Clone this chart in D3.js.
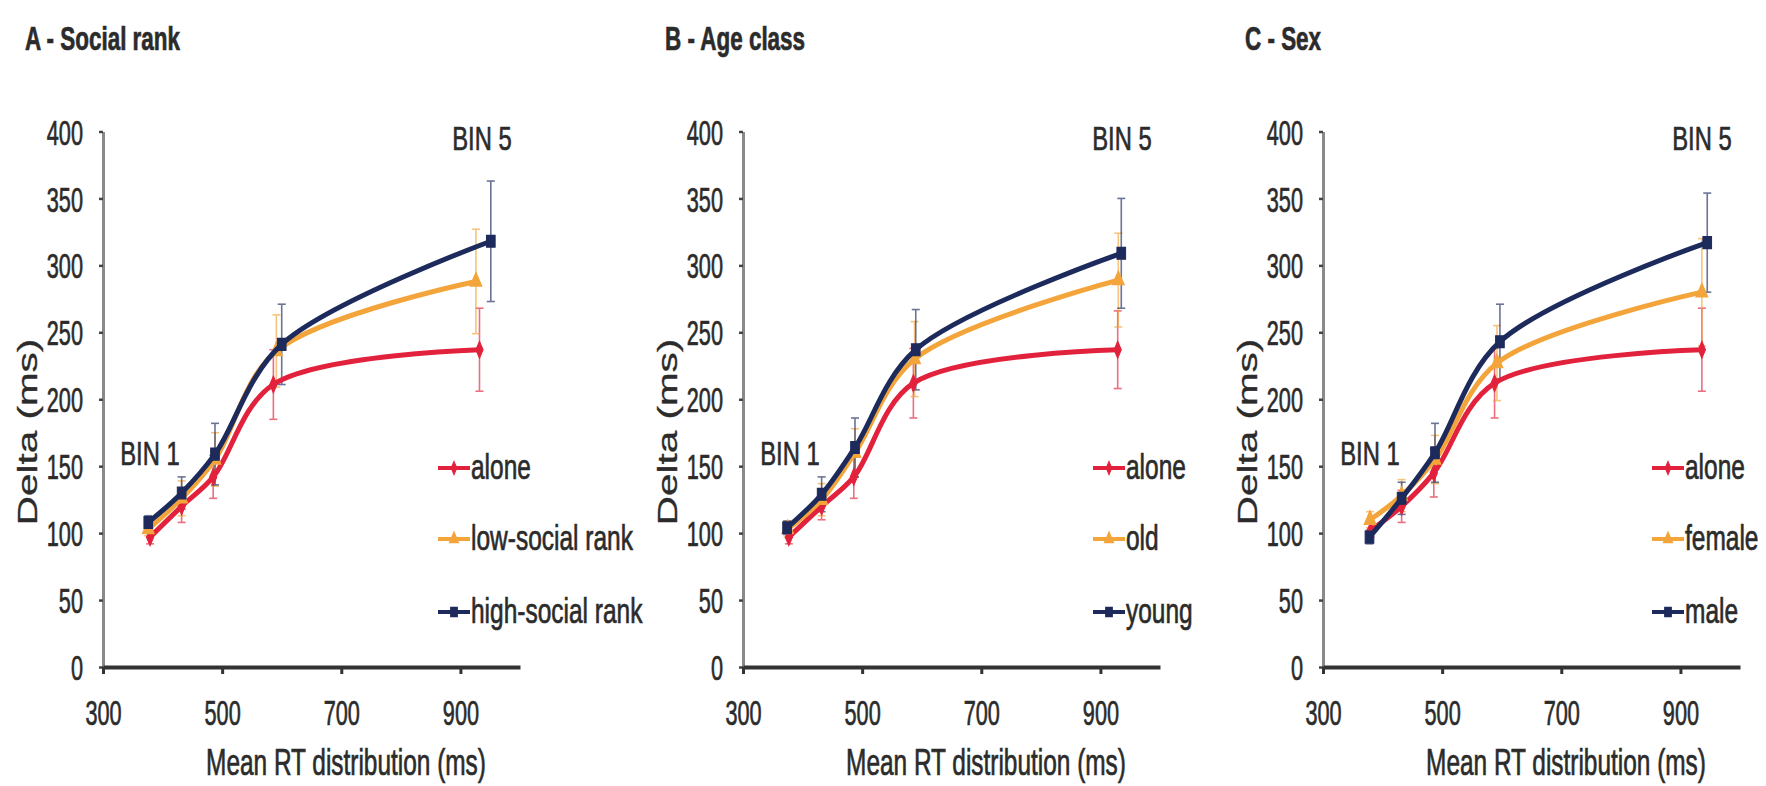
<!DOCTYPE html>
<html><head><meta charset="utf-8">
<script src="https://cdn.jsdelivr.net/npm/d3@7"></script>
<style>
body{margin:0;background:#fff}
text{font-family:"Liberation Sans",Arial,sans-serif;fill:#2b2b2b;stroke:#2b2b2b;stroke-width:0.7px;paint-order:stroke}
text.ylab{stroke-width:0.3px}
</style>
</head><body>
<svg id="c" width="1766" height="786"></svg>
<script>
// ---------- data ----------
const panelTitles = ["A - Social rank", "B - Age class", "C - Sex"];
const seriesNames = [
  ["alone", "low-social rank", "high-social rank"],
  ["alone", "old", "young"],
  ["alone", "female", "male"]
];
const seriesColors = ["#e2223c", "#f3a53b", "#1d2a5c"];
const markerShapes = ["diamond", "triangle", "square"];
const yTicks = [0, 50, 100, 150, 200, 250, 300, 350, 400];
const xTicks = [300, 500, 700, 900];
const binLabels = ["BIN 1", "BIN 5"];
const xTitle = "Mean RT distribution (ms)";
const yTitle = "Delta (ms)";

// Panel A - Social rank
const aAloneX = [379, 432, 485, 586, 932];
const aAloneY = [97, 120, 142, 211, 237];
const aAloneE = [5, 12, 16, 26, 31];
const aLowX = [376, 432, 488, 591, 926];
const aLowY = [103, 126, 155, 236, 288];
const aLowE = [5, 13, 20, 27, 39];
const aHighX = [376, 432, 488, 600, 951];
const aHighY = [108, 130, 159, 241, 318];
const aHighE = [5, 12, 23, 30, 45];

// Panel B - Age class
const bAloneX = [377, 432, 486, 586, 929];
const bAloneY = [97, 120, 142, 212, 237];
const bAloneE = [5, 10, 16, 26, 29];
const bOldX = [375, 432, 488, 588, 930];
const bOldY = [103, 125, 160, 230, 289];
const bOldE = [6, 12, 18, 28, 35];
const bYoungX = [374, 432, 488, 590, 935];
const bYoungY = [104, 129, 164, 237, 309];
const bYoungE = [5, 13, 22, 30, 41];

// Panel C - Sex
const cAloneX = [380, 432, 486, 588, 936];
const cAloneY = [102, 120, 145, 212, 237];
const cAloneE = [5, 12, 18, 26, 31];
const cFemaleX = [379, 432, 488, 592, 936];
const cFemaleY = [110, 128, 155, 227, 280];
const cFemaleE = [6, 12, 18, 28, 40];
const cMaleX = [378, 432, 488, 597, 945];
const cMaleY = [97, 126, 160, 243, 317];
const cMaleE = [5, 12, 22, 28, 37];

const panelData = [
  [[aAloneX, aAloneY, aAloneE], [aLowX, aLowY, aLowE], [aHighX, aHighY, aHighE]],
  [[bAloneX, bAloneY, bAloneE], [bOldX, bOldY, bOldE], [bYoungX, bYoungY, bYoungE]],
  [[cAloneX, cAloneY, cAloneE], [cFemaleX, cFemaleY, cFemaleE], [cMaleX, cMaleY, cMaleE]]
];

// ---------- layout ----------
const axisX0 = [103, 743, 1323];
const axisW = 417;
const yTop = 131.5, yBot = 667;
const legendX = [438, 1093, 1652];
const legendBase = [479, 550, 623];
const SX = 0.62; // horizontal condensing of glyphs

const svg = d3.select("#c");
const y = d3.scaleLinear().domain([0, 400]).range([yBot, yTop]);

function txt(g, x, yy, s, size, sx, anchor, weight) {
  return g.append("text")
    .attr("transform", `translate(${x},${yy}) scale(${sx},1)`)
    .attr("text-anchor", anchor || "start")
    .attr("font-size", size)
    .attr("font-weight", weight || "normal")
    .text(s);
}

function marker(g, shape, cx, cy, color, s) {
  const sym = shape === "diamond" ? d3.symbolDiamond : shape === "triangle" ? d3.symbolTriangle : d3.symbolSquare;
  const size = shape === "square" ? 75 * s : shape === "triangle" ? 60 * s : 45 * s;
  g.append("path")
    .attr("d", d3.symbol(sym, size)())
    .attr("transform", `translate(${cx},${cy}) scale(1,1.35)`)
    .attr("fill", color)
    .attr("stroke", color)
    .attr("stroke-width", 1);
}

panelTitles.forEach((title, p) => {
  const x0 = axisX0[p];
  const x = d3.scaleLinear().domain([300, 1000]).range([x0, x0 + axisW]);
  const g = svg.append("g");

  // title
  txt(g, x0 - 78, 50, title, 34, 0.66, "start", "bold");

  // y axis
  const ya = g.append("g").attr("transform", `translate(${x0},0)`)
    .call(d3.axisLeft(y).tickValues(yTicks).tickSize(4).tickSizeOuter(0));
  ya.select(".domain").attr("stroke", "#8a8a8a").attr("stroke-width", 3);
  ya.selectAll(".tick line").attr("stroke", "#444").attr("stroke-width", 2.5);
  ya.selectAll(".tick text")
    .attr("font-family", null).attr("fill", "#2b2b2b")
    .attr("font-size", 35)
    .attr("x", -20 / SX).attr("dy", "0.36em")
    .attr("transform", `scale(${SX},1)`);

  // x axis
  const xa = g.append("g").attr("transform", `translate(0,${yBot})`)
    .call(d3.axisBottom(x).tickValues(xTicks).tickSize(7).tickSizeOuter(0));
  xa.select(".domain").attr("stroke", "#333").attr("stroke-width", 4);
  xa.selectAll(".tick line").attr("stroke", "#333").attr("stroke-width", 3);
  xa.selectAll(".tick text")
    .attr("font-family", null).attr("fill", "#2b2b2b")
    .attr("font-size", 35)
    .attr("y", 58).attr("dy", 0).attr("x", 0)
    .attr("transform", `scale(${SX},1)`);

  // axis titles
  txt(g, x0 + 243, 775, xTitle, 37, 0.66, "middle");
  g.append("text")
    .attr("class", "ylab")
    .attr("transform", `translate(${x0 - 66},432) rotate(-90) scale(1.5,1)`)
    .attr("text-anchor", "middle")
    .attr("font-size", 27)
    .text(yTitle);

  // bin labels
  txt(g, x0 + 47, 465, binLabels[0], 34, 0.7, "middle");
  txt(g, x0 + 379, 150, binLabels[1], 34, 0.7, "middle");

  const series = panelData[p];
  const line = d3.line().curve(d3.curveCatmullRom.alpha(0.5))
    .x(d => x(d[0])).y(d => y(d[1]));

  // error bars
  series.forEach((s, i) => {
    const col = seriesColors[i];
    s[0].forEach((xv, k) => {
      const cx = x(xv), top = y(s[1][k] + s[2][k]), bot = y(s[1][k] - s[2][k]);
      const eg = g.append("g").attr("stroke", col).attr("stroke-width", 1.6).attr("opacity", 0.65);
      eg.append("line").attr("x1", cx).attr("x2", cx).attr("y1", top).attr("y2", bot);
      eg.append("line").attr("x1", cx - 4).attr("x2", cx + 4).attr("y1", top).attr("y2", top);
      eg.append("line").attr("x1", cx - 4).attr("x2", cx + 4).attr("y1", bot).attr("y2", bot);
    });
  });

  // lines + markers
  series.forEach((s, i) => {
    const col = seriesColors[i];
    const pts = s[0].map((xv, k) => [xv, s[1][k]]);
    g.append("path").attr("d", line(pts)).attr("fill", "none")
      .attr("stroke", col).attr("stroke-width", 5).attr("stroke-linejoin", "round");
    pts.forEach(pt => marker(g, markerShapes[i], x(pt[0]), y(pt[1]), col, 1));
  });

  // legend
  seriesNames[p].forEach((name, i) => {
    const col = seriesColors[i];
    const lx = legendX[p], by = legendBase[i], ly = by - 11;
    g.append("line").attr("x1", lx).attr("x2", lx + 32).attr("y1", ly).attr("y2", ly)
      .attr("stroke", col).attr("stroke-width", 4);
    marker(g, markerShapes[i], lx + 16, ly, col, 0.6);
    txt(g, lx + 33, by, name, 35, 0.7, "start");
  });
});
</script>
</body></html>
